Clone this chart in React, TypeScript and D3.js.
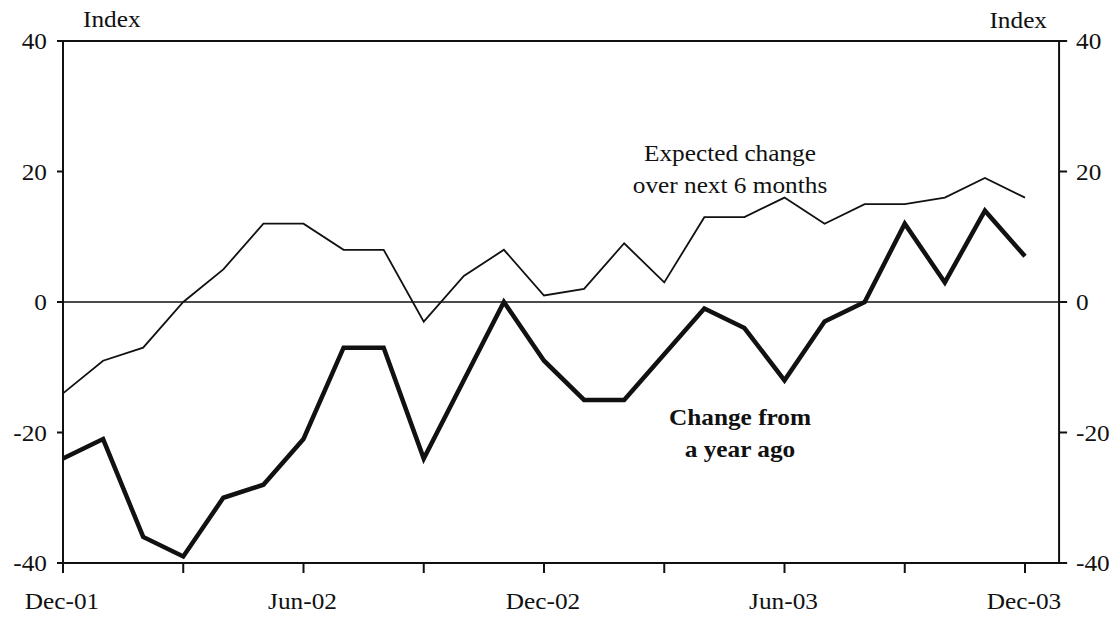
import React from "react";
import * as d3 from "d3";

const months = [
  "Dec-01", "Jan-02", "Feb-02", "Mar-02", "Apr-02", "May-02", "Jun-02",
  "Jul-02", "Aug-02", "Sep-02", "Oct-02", "Nov-02", "Dec-02",
  "Jan-03", "Feb-03", "Mar-03", "Apr-03", "May-03", "Jun-03",
  "Jul-03", "Aug-03", "Sep-03", "Oct-03", "Nov-03", "Dec-03",
];
const expectedChange = [-14, -9, -7, 0, 5, 12, 12, 8, 8, -3, 4, 8, 1, 2, 9, 3, 13, 13, 16, 12, 15, 15, 16, 19, 16];
const changeFromYearAgo = [-24, -21, -36, -39, -30, -28, -21, -7, -7, -24, -12, 0, -9, -15, -15, -8, -1, -4, -12, -3, 0, 12, 3, 14, 7];
const yTicks = [-40, -20, 0, 20, 40];
const xTickLabels = ["Dec-01", "Jun-02", "Dec-02", "Jun-03", "Dec-03"];
const yGridValues = [40, 0, -40];

const W = 1117;
const H = 619;
const FONT = "'Liberation Serif', 'Times New Roman', serif";
const FS = 23;
const SX = 1.1;

function T(props: {
  x: number;
  y: number;
  anchor?: "start" | "middle" | "end";
  bold?: boolean;
  dy?: string;
  children: React.ReactNode;
}) {
  return (
    <text
      transform={`translate(${props.x},${props.y}) scale(${SX},1)`}
      textAnchor={props.anchor || "start"}
      dy={props.dy}
      fontSize={FS}
      fontWeight={props.bold ? "bold" : "normal"}
      fill="#111"
    >
      {props.children}
    </text>
  );
}

export default function App() {
  const x = d3.scaleLinear().domain([0, months.length - 1]).range([63, 1025]);
  const y = d3.scaleLinear().domain([-40, 40]).range([563, 41]);
  const xLeft = x(0);
  const xRight = x(24.85);

  const line = d3
    .line<number>()
    .x((_, i) => x(i))
    .y((v) => y(v));

  const tickIdx = months.map((_, i) => i).filter((i) => i % 3 === 0);

  return (
    <svg
      width={W}
      height={H}
      style={{ position: "absolute", left: 0, top: 0, background: "#fff" }}
      fontFamily={FONT}
    >
      {yGridValues.map((v) => (
        <line
          key={"g" + v}
          x1={xLeft - 6}
          x2={xRight + 8}
          y1={y(v)}
          y2={y(v)}
          stroke="#111"
          strokeWidth={v === 0 ? 1.6 : 2}
        />
      ))}
      <line x1={xLeft} x2={xLeft} y1={y(40)} y2={y(-40) + 10} stroke="#111" strokeWidth={2} />
      <line x1={xRight} x2={xRight} y1={y(40)} y2={y(-40)} stroke="#111" strokeWidth={2} />
      {yTicks.map((t) => (
        <g key={"yt" + t}>
          <line x1={xLeft - 6} x2={xLeft} y1={y(t)} y2={y(t)} stroke="#111" strokeWidth={2} />
          <line x1={xRight} x2={xRight + 8} y1={y(t)} y2={y(t)} stroke="#111" strokeWidth={2} />
          <T x={47} y={y(t)} dy="0.35em" anchor="end">{t}</T>
          <T x={1076} y={y(t)} dy="0.35em">{t}</T>
        </g>
      ))}
      {tickIdx.map((i) => (
        <line key={"xt" + i} x1={x(i)} x2={x(i)} y1={y(-40)} y2={y(-40) + 10} stroke="#111" strokeWidth={2} />
      ))}
      {months.map((m, i) =>
        xTickLabels.includes(m) ? (
          <T key={"xl" + m} x={x(i) - 1} y={609} anchor="middle">{m}</T>
        ) : null
      )}
      <T x={83} y={27}>Index</T>
      <T x={1047} y={28} anchor="end">Index</T>

      <path d={line(expectedChange) || ""} fill="none" stroke="#111" strokeWidth={1.8} strokeLinejoin="miter" />
      <path d={line(changeFromYearAgo) || ""} fill="none" stroke="#111" strokeWidth={4.5} strokeLinejoin="miter" strokeMiterlimit={3} />

      <T x={730} y={161} anchor="middle">Expected change</T>
      <T x={730} y={193} anchor="middle">over next 6 months</T>
      <T x={740} y={425} anchor="middle" bold>Change from</T>
      <T x={740} y={457} anchor="middle" bold>a year ago</T>
    </svg>
  );
}
